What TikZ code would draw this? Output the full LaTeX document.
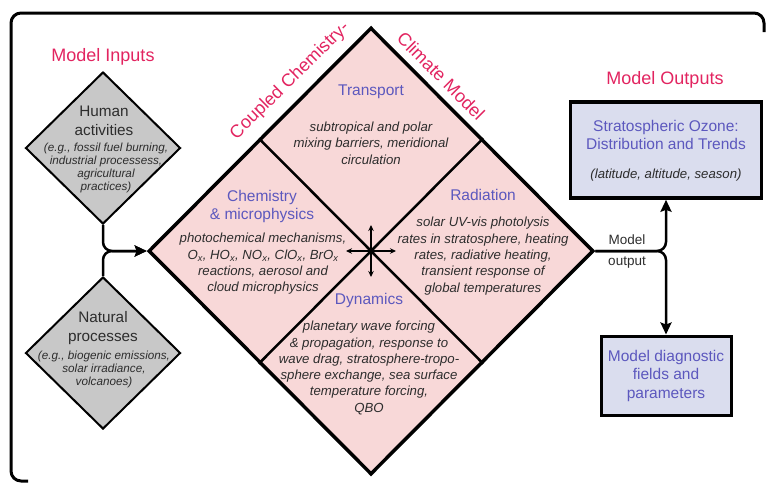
\documentclass[tikz,border=0pt]{standalone}
\usepackage{fontspec}
\setmainfont{Liberation Sans}
\usetikzlibrary{shapes.geometric,arrows.meta,calc}
\definecolor{crim}{RGB}{226,36,96}
\definecolor{titl}{RGB}{92,88,190}
\definecolor{bodyc}{RGB}{45,45,45}
\definecolor{pinkf}{RGB}{248,216,216}
\definecolor{grayf}{RGB}{200,200,200}
\definecolor{boxf}{RGB}{218,221,238}
\begin{document}
\begin{tikzpicture}[x=1pt,y=-1pt,
  heading/.style={text=crim, font=\fontsize{18}{20}\selectfont, inner sep=0pt},
  subtitle/.style={text=titl, font=\fontsize{15.5}{18}\selectfont, align=center, inner sep=0pt},
  inputtitle/.style={text=bodyc, font=\fontsize{15.3}{19}\selectfont, align=center, inner sep=0pt},
  bodytxt/.style={text=bodyc, font=\itshape\fontsize{13.2}{16.3}\selectfont, align=center, inner sep=0pt},
  smalltxt/.style={text=bodyc, font=\itshape\fontsize{11.7}{13}\selectfont, align=center, inner sep=0pt},
  labeltxt/.style={text=bodyc, font=\fontsize{13.5}{16}\selectfont, inner sep=0pt},
  bigdia/.style={diamond, draw=black, fill=pinkf, line width=3.5pt, inner sep=0pt, minimum width=445pt, minimum height=447pt},
  graydia/.style={diamond, draw=black, fill=grayf, line width=2pt, inner sep=0pt, minimum width=155pt, minimum height=152pt},
  outbox/.style={rectangle, draw=black, fill=boxf, inner sep=0pt},
  divider/.style={draw=black, line width=2.5pt},
  flow/.style={draw=black, line width=2.5pt, rounded corners=9pt, -{Stealth[length=12pt,width=11pt,inset=2pt]}},
  smallarrow/.style={draw=black, line width=1.3pt, -{Stealth[length=6pt,width=5.5pt]}}
]
\useasboundingbox (0,0) rectangle (767,483);
% frame
\draw[line width=3pt, rounded corners=10pt] (28,481) -- (11,481) -- (11,13) -- (764,13) -- (764,32);

% headings
\node[heading] (inputs) at (103,57) {Model Inputs};
\node[heading] (outputs) at (665,80) {Model Outputs};

% main diamond
\node[bigdia] (ccm) at (371,251) {};
\draw[divider] ($(ccm.west)!0.5!(ccm.north)$) -- ($(ccm.south)!0.5!(ccm.east)$);
\draw[divider] ($(ccm.north)!0.5!(ccm.east)$) -- ($(ccm.west)!0.5!(ccm.south)$);
\node[heading, rotate=44.5] (cpl) at (290,81) {Coupled Chemistry-};
\node[heading, rotate=-45] (clm) at (441,76) {Climate Model};

% central cross
\node[fill=black, minimum size=5pt, inner sep=0pt] (hub) at (ccm.center) {};
\coordinate (hubN) at (371,225);
\coordinate (hubS) at (371,277);
\coordinate (hubW) at (346,251);
\coordinate (hubE) at (396,251);
\draw[smallarrow] (hub.center) -- (hubN);
\draw[smallarrow] (hub.center) -- (hubS);
\draw[smallarrow] (hub.center) -- (hubW);
\draw[smallarrow] (hub.center) -- (hubE);

% sector texts
\node[subtitle] (trT) at (371,92) {Transport};
\node[bodytxt] (trB) at (371,143) {subtropical and polar\\mixing barriers, meridional\\circulation};
\node[subtitle] (chT) at (262,206) {Chemistry\\\& microphysics};
\node[bodytxt] (chB) at (263,264) {photochemical mechanisms,\\O\textsubscript{x}, HO\textsubscript{x}, NO\textsubscript{x}, ClO\textsubscript{x}, BrO\textsubscript{x}\\reactions, aerosol and\\cloud microphysics};
\node[subtitle] (raT) at (483,195) {Radiation};
\node[bodytxt] (raB) at (483,256) {solar UV-vis photolysis\\rates in stratosphere, heating\\rates, radiative heating,\\transient response of\\global temperatures};
\node[subtitle] (dyT) at (369,300) {Dynamics};
\node[bodytxt] (dyB) at (369,368) {planetary wave forcing\\\& propagation, response to\\wave drag, stratosphere-tropo-\\sphere exchange, sea surface\\temperature forcing,\\QBO};

% inputs
\node[graydia] (human) at (103,148) {};
\node[inputtitle] (humT) at (104,121) {Human\\activities};
\node[smalltxt] (humB) at (106,168) {(e.g., fossil fuel burning,\\industrial processess,\\agricultural\\practices)};
\node[graydia] (natural) at (103,353) {};
\node[inputtitle] (natT) at (103,328) {Natural\\processes};
\node[smalltxt] (natB) at (104,369) {(e.g., biogenic emissions,\\solar irradiance,\\volcanoes)};

\draw[flow] (human.south) |- (ccm.west);
\draw[flow] (natural.north) |- (ccm.west);

% outputs
\node[outbox, line width=3.5pt, minimum width=191pt, minimum height=96pt] (ozone) at (666,150) {};
\node[subtitle] (ozT) at (666,135) {Stratospheric Ozone:\\Distribution and Trends};
\node[bodytxt] (ozB) at (666,175) {(latitude, altitude, season)};
\node[outbox, line width=3pt, minimum width=130pt, minimum height=79pt, text=titl, font=\fontsize{15.5}{18.5}\selectfont, align=center] (diag) at (666,375.5) {Model diagnostic\\fields and\\parameters};

\draw[flow] (ccm.east) -| (ozone.south);
\draw[flow] (ccm.east) -| (diag.north);
\node[labeltxt] (mlab) at (627,240) {Model};
\node[labeltxt] (olab) at (627,263) {output};
\end{tikzpicture}
\end{document}
